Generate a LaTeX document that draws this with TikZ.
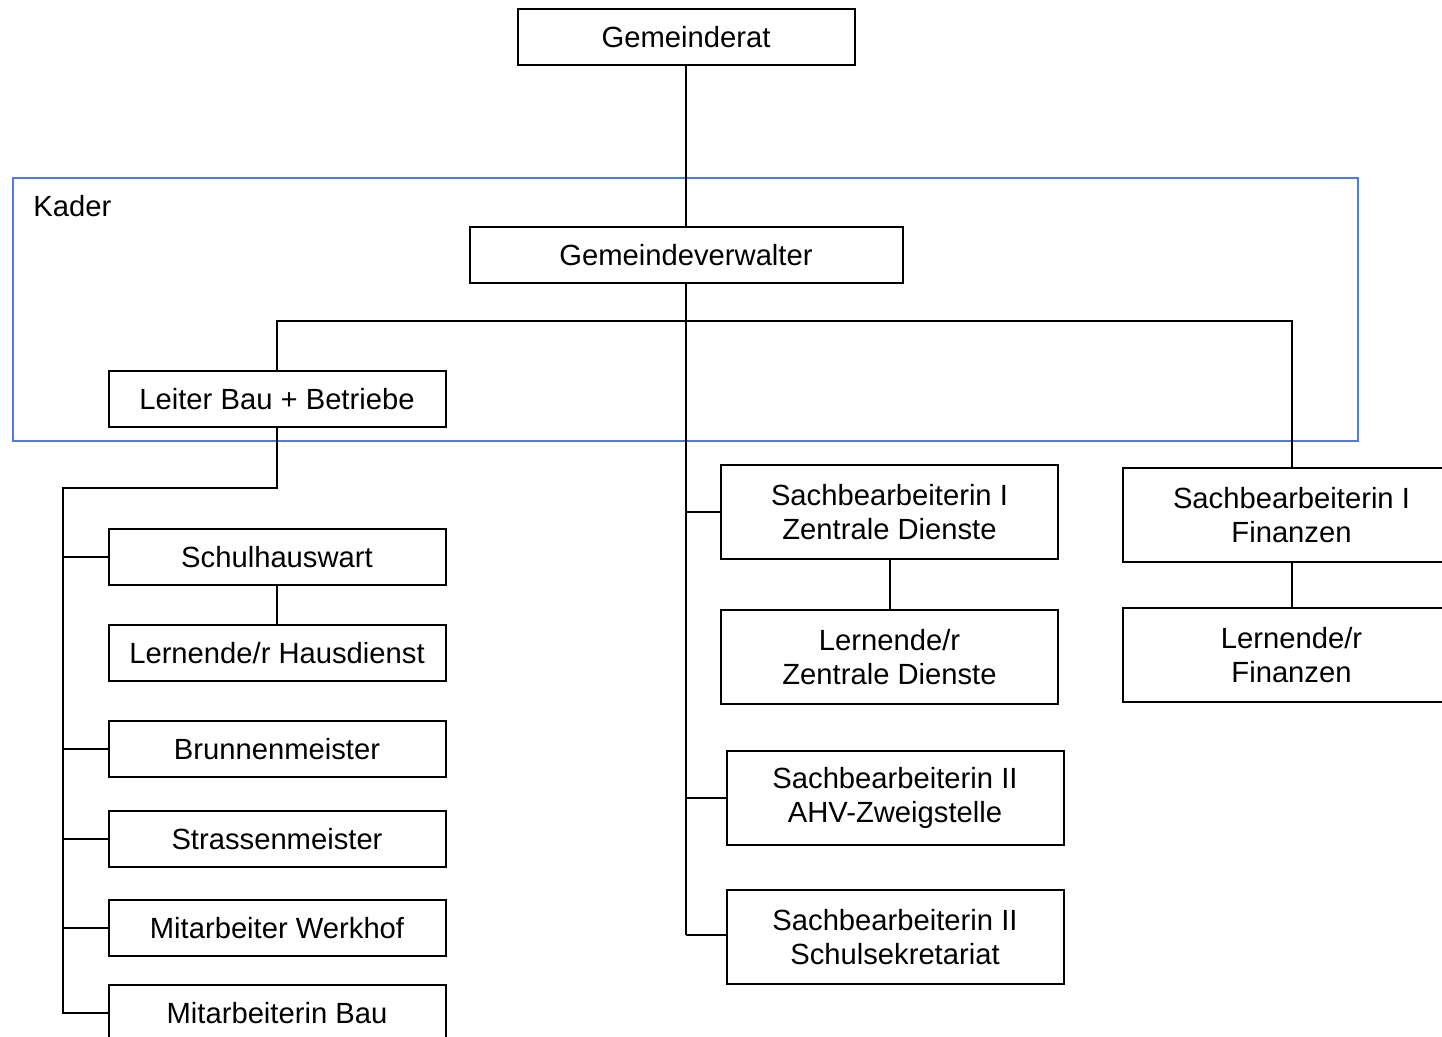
\documentclass[tikz,border=0pt]{standalone}
\usepackage{fontspec}
\setmainfont{Liberation Sans}
\usepackage{xcolor}
\usepackage{tikz}
\definecolor{kaderblau}{RGB}{77,121,235}

\begin{document}
\begin{tikzpicture}[x=0.5pt,y=-0.5pt,
	every node/.style={font=\fontsize{14.6pt}{17pt}\selectfont},
	stelle/.style={draw, line width=1pt, minimum width=168.5pt, minimum height=28pt, inner sep=0pt, align=center},
	stelle2/.style={stelle, minimum height=47pt},
	linie/.style={line width=1pt}]
	\useasboundingbox (0,0) rectangle (1442,1037);
	\clip (0,0) rectangle (1442,1037);
	%%% Kader
	\draw[color=kaderblau, line width=0.8pt] (13,178) rectangle (1358,441);
	\node[anchor=west, inner sep=0pt](kader) at (33,206) {Kader};
	\node[stelle](rat) at (686,37) {Gemeinderat};
	\node[stelle, minimum width=216.5pt](verw) at (686,255) {Gemeindeverwalter};
	\node[stelle](leiter) at (277,399) {Leiter Bau + Betriebe};
	%%% Bau + Betriebe
	\node[stelle](schul) at (277,557) {Schulhauswart};
	\node[stelle](hausd) at (277,653) {Lernende/r Hausdienst};
	\node[stelle](brunnen) at (277,749) {Brunnenmeister};
	\node[stelle](strasse) at (277,839) {Strassenmeister};
	\node[stelle](werkhof) at (277,928) {Mitarbeiter Werkhof};
	\node[stelle](bau) at (277,1013) {Mitarbeiterin Bau};
	%%% Sachbearbeitung
	\node[stelle2](sz) at (889.5,512) {Sachbearbeiterin I\\Zentrale Dienste};
	\node[stelle2](lz) at (889.5,657) {Lernende/r\\Zentrale Dienste};
	\node[stelle2](ahv) at (895,798) {Sachbearbeiterin II\\AHV-Zweigstelle};
	\node[stelle2](sek) at (895,937) {Sachbearbeiterin II\\Schulsekretariat};
	\node[stelle2](fin) at (1291.5,515) {Sachbearbeiterin I\\Finanzen};
	\node[stelle2](lf) at (1291.5,655) {Lernende/r\\Finanzen};
	
	\coordinate(quer) at (686,321);
	\coordinate(stamm) at (686,935);
	\coordinate(links) at (63,488);
	\draw[linie] (rat) -- (verw);
	\draw[linie] (verw.south) -- (stamm);
	\draw[linie] (leiter.north) |- (quer) -| (fin.north);
	\draw[linie] (stamm |- sz.west) -- (sz.west);
	\draw[linie] (stamm |- ahv.west) -- (ahv.west);
	\draw[linie] (stamm) -- (sek.west |- stamm);
	\draw[linie] (sz) -- (lz);
	\draw[linie] (fin) -- (lf);
	\draw[linie] (leiter.south) |- (links) -- (links |- bau.west) -- (bau.west);
	\draw[linie] (links |- schul.west) -- (schul.west);
	\draw[linie] (links |- brunnen.west) -- (brunnen.west);
	\draw[linie] (links |- strasse.west) -- (strasse.west);
	\draw[linie] (links |- werkhof.west) -- (werkhof.west);
	\draw[linie] (schul) -- (hausd);
\end{tikzpicture}
\end{document}
